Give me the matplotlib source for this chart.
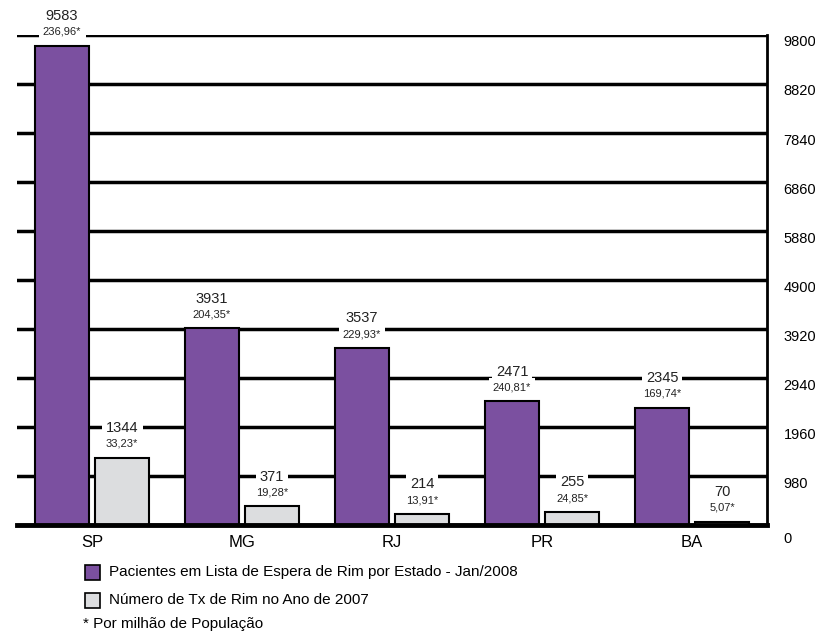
import numpy as np
import matplotlib.pyplot as plt
import matplotlib.transforms as mtransforms
from matplotlib.patches import Rectangle
from matplotlib import font_manager

names = [f.name for f in font_manager.fontManager.ttflist]
FONT = "Liberation Sans Narrow" if "Liberation Sans Narrow" in names else "Liberation Sans"
plt.rcParams["font.family"] = [FONT, "DejaVu Sans"]

states = ["SP", "MG", "RJ", "PR", "BA"]
waiting = [9583, 3931, 3537, 2471, 2345]
waiting_pm = ["236,96", "204,35", "229,93", "240,81", "169,74"]
transplants = [1344, 371, 214, 255, 70]
transplants_pm = ["33,23", "19,28", "13,91", "24,85", "5,07"]
yticks = [0, 980, 1960, 2940, 3920, 4900, 5880, 6860, 7840, 8820, 9800]

legend_labels = [
    "Pacientes em Lista de Espera de Rim por Estado - Jan/2008",
    "Número de Tx de Rim no Ano de 2007",
]
footnote = "* Por milhão de População"

PURPLE = "#7b50a0"
GRAY = "#dcdddf"

fig = plt.figure(figsize=(8.15, 6.34), dpi=100)
ax = fig.add_axes([0.0209, 0.1719, 0.9202, 0.7729])

x = np.arange(len(states))
w = 0.355
b1 = ax.bar(x - 0.2, waiting, w, color=PURPLE, edgecolor="black", linewidth=1.5, zorder=3)
b2 = ax.bar(x + 0.2, transplants, w, color=GRAY, edgecolor="black", linewidth=1.5, zorder=3)

box = dict(facecolor="white", edgecolor="none", pad=3)
for bars, vals, pms in [(b1, waiting, waiting_pm), (b2, transplants, transplants_pm)]:
    for r, v, pm in zip(bars, vals, pms):
        cx = r.get_x() + r.get_width() / 2
        ax.annotate(pm + "*", (cx, v), xytext=(0, 10), textcoords="offset points",
                    ha="center", va="center", fontsize=8, color="#222222",
                    bbox=box, zorder=4)
        ax.annotate(str(v), (cx, v), xytext=(0, 21.5), textcoords="offset points",
                    ha="center", va="center", fontsize=10.5, color="#222222",
                    bbox=box, zorder=4)

ax.set_xlim(-0.5, 4.5)
ax.set_ylim(0, 9800)
ax.set_yticks(yticks)
ax.yaxis.tick_right()
ax.set_yticklabels([str(t) for t in yticks], fontsize=10.5)
ax.tick_params(axis="y", length=0, pad=12)
ax.tick_params(axis="x", length=0, pad=7, labelsize=12)
ax.set_xticks(x)
ax.set_xticklabels(states)
for lab, t in zip(ax.get_yticklabels(), yticks):
    dy = -12 if t == 0 else -6
    lab.set_transform(lab.get_transform() +
                      mtransforms.ScaledTranslation(0, dy / 100, fig.dpi_scale_trans))

ax.grid(axis="y", color="black", linewidth=2.5, zorder=0)
ax.set_axisbelow(True)
ax.spines["left"].set_visible(False)
ax.spines["top"].set_visible(False)
ax.spines["right"].set_linewidth(2)
ax.spines["bottom"].set_linewidth(3.5)
ax.spines["bottom"].set_zorder(5)

# legend below the chart
W, H = 815, 634
for i, (lab, col) in enumerate(zip(legend_labels, [PURPLE, GRAY])):
    yc = 572 + i * 28
    fig.patches.append(Rectangle((85 / W, 1 - (yc + 7.5) / H), 15 / W, 15 / H,
                                 transform=fig.transFigure, facecolor=col,
                                 edgecolor="black", linewidth=1.2))
    fig.text(109 / W, 1 - yc / H, lab, fontsize=11, va="center", ha="left")
fig.text(83 / W, 1 - 624 / H, footnote, fontsize=11, va="center", ha="left")

fig.savefig("out.png", dpi=100)
